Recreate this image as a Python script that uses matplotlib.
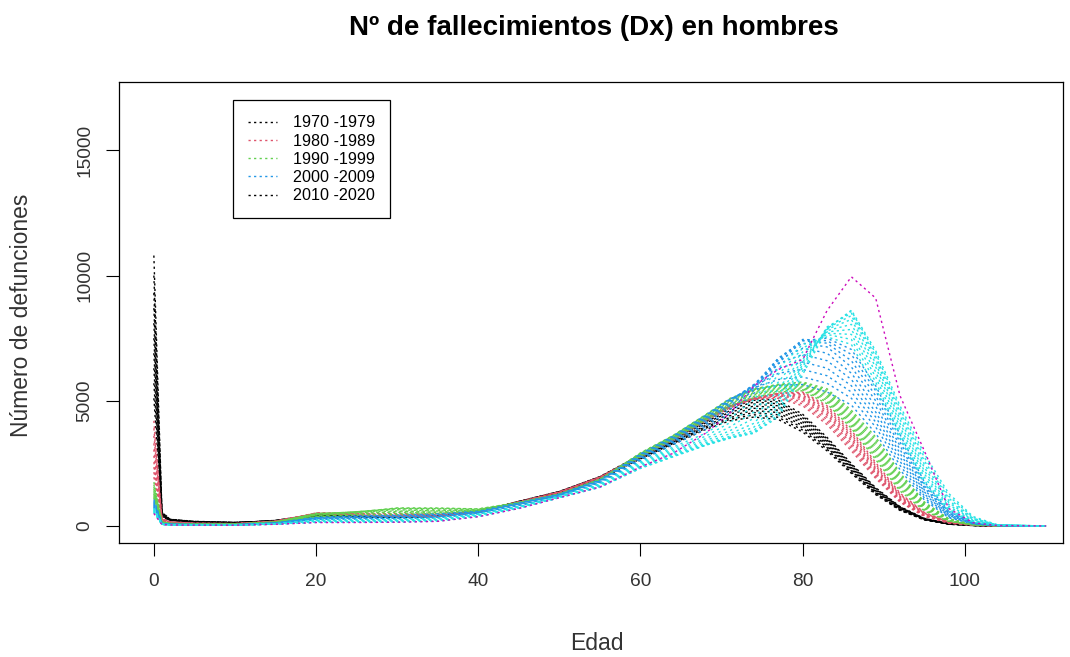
import matplotlib.pyplot as plt

# Edades (eje x) y defunciones de hombres por año, agrupadas por década
edades = [0, 1, 2, 5, 10, 15, 20, 25, 30, 35, 40, 45, 50, 55, 60, 64, 68, 71, 74, 77,
          80, 83, 86, 89, 92, 95, 98, 101, 104, 110]

dx_1970 = [
    [10800, 560, 270, 185, 145, 190, 380, 360, 340, 410, 600, 940, 1330, 1880, 2650, 3250, 3850, 4200, 4350, 4250, 3750, 3000, 2100, 1250, 620, 240, 70, 17, 4, 0],
    [10000, 540, 265, 180, 142, 195, 390, 365, 342, 405, 598, 945, 1340, 1895, 2680, 3290, 3900, 4260, 4440, 4340, 3830, 3070, 2150, 1290, 640, 248, 73, 18, 4, 0],
    [9300, 515, 258, 176, 139, 200, 398, 370, 345, 400, 595, 950, 1345, 1905, 2700, 3320, 3960, 4330, 4530, 4440, 3920, 3130, 2200, 1320, 660, 255, 76, 19, 4, 0],
    [8700, 495, 250, 172, 136, 205, 408, 375, 348, 396, 590, 955, 1350, 1915, 2720, 3350, 4010, 4400, 4610, 4530, 4000, 3190, 2250, 1350, 680, 262, 78, 20, 5, 0],
    [8100, 470, 244, 168, 133, 208, 418, 380, 350, 392, 586, 960, 1355, 1925, 2740, 3380, 4060, 4470, 4700, 4620, 4080, 3250, 2290, 1380, 700, 270, 81, 21, 5, 0],
    [7500, 450, 238, 164, 130, 212, 428, 385, 352, 388, 582, 965, 1360, 1935, 2760, 3410, 4110, 4540, 4790, 4720, 4160, 3310, 2330, 1410, 715, 277, 84, 22, 5, 0],
    [6900, 430, 232, 160, 128, 215, 438, 390, 354, 385, 578, 970, 1365, 1945, 2780, 3440, 4160, 4600, 4870, 4800, 4240, 3370, 2370, 1440, 730, 284, 87, 23, 5, 0],
    [6300, 410, 226, 157, 126, 218, 448, 395, 356, 382, 575, 975, 1370, 1955, 2800, 3470, 4210, 4670, 4950, 4880, 4320, 3430, 2410, 1470, 745, 291, 90, 24, 6, 0],
    [5700, 390, 220, 154, 124, 221, 458, 400, 358, 380, 572, 980, 1375, 1965, 2820, 3500, 4250, 4730, 5020, 4950, 4390, 3480, 2450, 1500, 760, 298, 92, 25, 6, 0],
    [5100, 370, 214, 151, 122, 224, 468, 405, 360, 378, 570, 985, 1380, 1975, 2840, 3530, 4290, 4790, 5080, 5020, 4460, 3540, 2490, 1530, 775, 305, 95, 26, 6, 0],
]

dx_1980 = [
    [4200, 300, 165, 115, 98, 195, 485, 430, 365, 378, 565, 975, 1370, 1960, 2830, 3520, 4280, 4790, 5050, 5100, 4800, 4050, 3000, 1900, 950, 380, 115, 30, 7, 0],
    [3900, 285, 158, 110, 95, 192, 495, 440, 372, 380, 560, 965, 1360, 1950, 2820, 3510, 4270, 4790, 5070, 5140, 4880, 4150, 3100, 1970, 990, 398, 120, 31, 7, 0],
    [3600, 270, 152, 106, 92, 190, 502, 450, 380, 384, 555, 955, 1350, 1940, 2810, 3500, 4260, 4790, 5090, 5180, 4960, 4250, 3200, 2040, 1030, 416, 125, 32, 7, 0],
    [3300, 255, 146, 102, 90, 187, 508, 460, 390, 390, 553, 945, 1340, 1930, 2800, 3490, 4250, 4780, 5100, 5210, 5040, 4340, 3300, 2110, 1070, 434, 130, 34, 7, 0],
    [3050, 240, 140, 99, 88, 184, 512, 470, 402, 398, 552, 935, 1330, 1920, 2790, 3480, 4240, 4770, 5110, 5240, 5110, 4430, 3400, 2180, 1110, 452, 135, 35, 8, 0],
    [2800, 228, 135, 96, 86, 181, 514, 480, 416, 408, 553, 925, 1320, 1910, 2780, 3470, 4230, 4760, 5110, 5260, 5170, 4510, 3490, 2250, 1150, 470, 140, 36, 8, 0],
    [2550, 216, 130, 93, 84, 178, 513, 490, 432, 420, 556, 918, 1310, 1900, 2770, 3460, 4220, 4750, 5110, 5280, 5230, 4590, 3580, 2320, 1190, 488, 145, 38, 8, 0],
    [2350, 205, 125, 90, 82, 175, 510, 498, 452, 434, 560, 912, 1300, 1890, 2760, 3450, 4210, 4740, 5100, 5290, 5280, 4660, 3660, 2390, 1230, 506, 150, 40, 8, 0],
    [2150, 195, 120, 88, 80, 172, 506, 505, 474, 450, 566, 908, 1290, 1880, 2750, 3440, 4200, 4730, 5090, 5300, 5320, 4730, 3740, 2460, 1270, 524, 156, 42, 9, 0],
    [1950, 185, 115, 86, 78, 169, 502, 510, 498, 468, 574, 905, 1280, 1870, 2740, 3430, 4190, 4720, 5080, 5300, 5350, 4800, 3820, 2530, 1310, 542, 162, 44, 9, 0],
]

dx_1990 = [
    [1750, 175, 110, 82, 76, 166, 505, 540, 545, 505, 585, 905, 1275, 1865, 2760, 3450, 4220, 4760, 5130, 5350, 5400, 4880, 3900, 2650, 1400, 600, 180, 46, 10, 0],
    [1650, 165, 105, 80, 74, 163, 495, 558, 600, 548, 600, 908, 1272, 1862, 2780, 3470, 4250, 4800, 5180, 5390, 5440, 4950, 3980, 2750, 1480, 640, 192, 48, 10, 0],
    [1560, 155, 100, 77, 72, 159, 478, 570, 648, 595, 618, 912, 1270, 1860, 2800, 3490, 4280, 4840, 5230, 5430, 5480, 5020, 4060, 2850, 1560, 680, 204, 50, 10, 0],
    [1480, 146, 96, 74, 70, 155, 460, 572, 690, 645, 638, 918, 1268, 1858, 2820, 3510, 4310, 4880, 5280, 5470, 5520, 5090, 4140, 2950, 1640, 720, 216, 52, 11, 0],
    [1410, 140, 92, 72, 68, 151, 440, 566, 712, 692, 658, 925, 1267, 1856, 2840, 3530, 4340, 4920, 5330, 5510, 5560, 5160, 4220, 3050, 1720, 760, 228, 55, 11, 0],
    [1340, 134, 88, 70, 66, 147, 420, 548, 722, 720, 676, 932, 1266, 1854, 2860, 3550, 4370, 4960, 5380, 5550, 5600, 5230, 4300, 3150, 1800, 800, 240, 58, 12, 0],
    [1280, 128, 85, 68, 64, 143, 400, 520, 690, 705, 686, 938, 1266, 1852, 2880, 3570, 4400, 5000, 5420, 5590, 5640, 5300, 4380, 3250, 1880, 840, 252, 60, 12, 0],
    [1220, 122, 82, 66, 62, 139, 380, 480, 580, 610, 650, 940, 1266, 1850, 2900, 3590, 4420, 5040, 5450, 5620, 5680, 5360, 4460, 3350, 1960, 880, 264, 63, 13, 0],
    [1170, 117, 79, 64, 60, 135, 365, 450, 500, 548, 622, 938, 1268, 1848, 2910, 3600, 4430, 5070, 5470, 5640, 5720, 5420, 4540, 3450, 2040, 920, 276, 66, 13, 0],
    [1120, 112, 76, 62, 58, 131, 352, 428, 452, 505, 600, 935, 1270, 1846, 2920, 3610, 4440, 5090, 5480, 5660, 5750, 5480, 4620, 3550, 2120, 960, 288, 70, 14, 0],
]

dx_2000 = [
    [1060, 106, 73, 60, 55, 127, 342, 405, 432, 482, 590, 930, 1270, 1840, 2880, 3600, 4420, 5070, 5450, 5620, 5650, 5350, 4830, 3700, 2250, 1040, 330, 80, 15, 0],
    [1010, 101, 71, 58, 53, 124, 333, 390, 412, 458, 575, 915, 1262, 1830, 2850, 3560, 4380, 5060, 5520, 5850, 5950, 5700, 5100, 3950, 2420, 1120, 360, 88, 16, 0],
    [965, 97, 69, 56, 51, 120, 322, 374, 392, 434, 562, 900, 1254, 1815, 2820, 3520, 4340, 5040, 5580, 6100, 6250, 6000, 5350, 4150, 2580, 1200, 390, 95, 17, 0],
    [925, 93, 67, 54, 49, 117, 312, 358, 372, 412, 550, 885, 1246, 1800, 2790, 3480, 4300, 5020, 5620, 6300, 6550, 6300, 5600, 4350, 2740, 1280, 420, 102, 18, 0],
    [885, 89, 65, 52, 47, 114, 302, 342, 356, 392, 540, 870, 1238, 1785, 2760, 3440, 4260, 4990, 5650, 6480, 6850, 6600, 5850, 4550, 2900, 1360, 450, 110, 19, 0],
    [850, 86, 63, 50, 46, 110, 292, 327, 340, 376, 530, 855, 1230, 1770, 2730, 3400, 4200, 4950, 5650, 6620, 7100, 6900, 6100, 4780, 3050, 1440, 480, 118, 20, 0],
    [820, 83, 61, 48, 45, 106, 282, 312, 326, 360, 520, 840, 1222, 1755, 2700, 3360, 4120, 4880, 5620, 6700, 7300, 7150, 6350, 5000, 3200, 1520, 510, 126, 21, 0],
    [790, 80, 59, 47, 44, 102, 272, 298, 312, 346, 510, 825, 1214, 1740, 2670, 3320, 4040, 4780, 5560, 6700, 7400, 7300, 6600, 5200, 3350, 1600, 540, 134, 22, 0],
    [760, 78, 57, 46, 43, 98, 262, 284, 298, 334, 500, 810, 1206, 1725, 2640, 3280, 3950, 4650, 5450, 6620, 7450, 7400, 6850, 5400, 3500, 1680, 570, 142, 23, 0],
    [735, 76, 55, 45, 42, 94, 252, 270, 284, 322, 490, 795, 1198, 1710, 2610, 3240, 3850, 4500, 5300, 6500, 7400, 7500, 7050, 5600, 3650, 1760, 600, 150, 24, 0],
]

dx_2010 = [
    [710, 74, 53, 44, 41, 92, 242, 256, 270, 310, 480, 780, 1190, 1690, 2560, 3150, 3700, 4300, 5050, 6300, 7250, 7550, 7250, 5500, 3500, 1700, 600, 150, 26, 0],
    [690, 72, 51, 43, 40, 89, 228, 240, 255, 294, 468, 770, 1182, 1670, 2520, 3090, 3580, 4120, 4800, 6050, 7100, 7650, 7450, 5750, 3650, 1820, 660, 170, 28, 0],
    [665, 70, 50, 42, 39, 86, 214, 224, 240, 278, 456, 760, 1174, 1650, 2480, 3030, 3480, 3950, 4550, 5750, 6950, 7700, 7650, 5950, 3800, 1950, 720, 190, 30, 0],
    [645, 68, 49, 41, 38, 83, 200, 208, 225, 262, 444, 750, 1166, 1630, 2440, 2970, 3400, 3800, 4300, 5450, 6800, 7750, 7850, 6150, 3950, 2080, 790, 210, 32, 0],
    [625, 66, 48, 40, 37, 80, 186, 194, 210, 248, 432, 740, 1158, 1610, 2400, 2910, 3330, 3680, 4100, 5200, 6650, 7800, 8050, 6350, 4100, 2200, 860, 230, 35, 0],
    [605, 64, 47, 39, 36, 78, 174, 180, 196, 234, 420, 730, 1150, 1590, 2370, 2860, 3280, 3580, 3950, 4980, 6550, 7850, 8250, 6500, 4250, 2330, 940, 255, 38, 0],
    [585, 62, 46, 38, 35, 76, 164, 168, 184, 222, 408, 720, 1142, 1570, 2340, 2820, 3250, 3520, 3820, 4780, 6450, 7900, 8400, 6650, 4400, 2460, 1020, 280, 40, 0],
    [565, 60, 45, 37, 34, 74, 156, 158, 172, 210, 396, 712, 1135, 1555, 2320, 2790, 3230, 3500, 3740, 4600, 6350, 7950, 8500, 6780, 4550, 2600, 1110, 310, 42, 0],
    [545, 58, 44, 36, 33, 72, 148, 150, 162, 200, 384, 704, 1130, 1545, 2310, 2770, 3220, 3510, 3700, 4450, 6200, 7900, 8580, 6900, 4680, 2740, 1200, 340, 45, 0],
    [525, 56, 43, 35, 32, 70, 142, 144, 154, 190, 374, 698, 1128, 1540, 2300, 2760, 3220, 3540, 3720, 4350, 6050, 7850, 8620, 7000, 4800, 2880, 1300, 380, 48, 0],
]

dx_2020 = [
    [500, 54, 42, 34, 31, 68, 138, 140, 150, 186, 370, 700, 1130, 1560, 2360, 2900, 3700, 4500, 5600, 6250, 6650, 8600, 9950, 9100, 5200, 3000, 700, 130, 20, 0],
]

# Colores por década (paleta por defecto de R)
colores = ["#000000", "#DF536B", "#61D04F", "#2297E6", "#28E2E5", "#CD0BBC"]
decadas = ["1970 -1979", "1980 -1989", "1990 -1999", "2000 -2009", "2010 -2020"]
colores_leyenda = ["#000000", "#DF536B", "#61D04F", "#2297E6", "#000000"]

plt.rcParams['font.family'] = ['Liberation Sans', 'DejaVu Sans']

fig = plt.figure(figsize=(10.7, 6.57), dpi=100)
ax = fig.add_axes([0.1112, 0.1735, 0.8823, 0.7017])

punteado = (0, (1.6, 2.4))
for col, grupo in zip(colores, [dx_1970, dx_1980, dx_1990, dx_2000, dx_2010, dx_2020]):
    for fila in grupo:
        ax.plot(edades, fila, color=col, lw=1.0, linestyle=punteado)

ax.set_xlim(-4.3, 112.1)
ax.set_ylim(-680, 17730)
ax.set_xticks([0, 20, 40, 60, 80, 100])
ax.set_yticks([0, 5000, 10000, 15000])
ax.tick_params(axis='both', direction='out', length=9.5, width=0.8, labelsize=13.8, labelcolor='#333333')
ax.tick_params(axis='x', pad=12)
ax.tick_params(axis='y', pad=9, labelrotation=90)
for t in ax.get_yticklabels():
    t.set_va('center')
for s in ax.spines.values():
    s.set_linewidth(0.9)

fig.text(0.555, 1 - 28/657, "Nº de fallecimientos (Dx) en hombres", ha='center', va='center',
         fontsize=20, fontweight='bold')
fig.text(597/1070, 1 - 643/657, "Edad", ha='center', va='center', fontsize=16.5, color='#333333')
fig.text(22/1070, 1 - 315/657, "Número de defunciones", ha='center', va='center', rotation=90,
         fontsize=16.5, color='#333333')

# Leyenda
handles = [plt.Line2D([], [], color=c, lw=1.0, linestyle=punteado) for c in colores_leyenda]
ax.legend(handles, decadas, loc='upper left', bbox_to_anchor=(0.1208, 0.961), fontsize=11.6,
          frameon=True, fancybox=False, edgecolor='black', framealpha=1, borderpad=0.95,
          handlelength=1.8, handletextpad=0.95, labelspacing=0.2, borderaxespad=0)
ax.get_legend().get_frame().set_linewidth(0.9)

plt.savefig("out.png", dpi=100)
